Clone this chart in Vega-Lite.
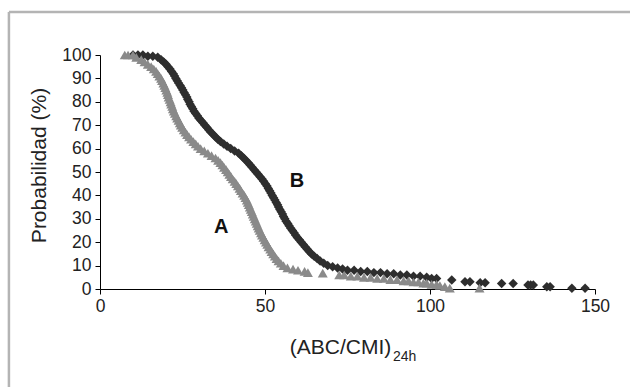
{
  "$schema": "https://vega.github.io/schema/vega-lite/v6.json",
  "width": 495,
  "height": 234,
  "autosize": "none",
  "padding": {"left": 100, "top": 55, "right": 35, "bottom": 98},
  "background": "white",
  "config": {
    "font": "Liberation Sans",
    "view": {"stroke": null},
    "axis": {"grid": false, "domainColor": "#000", "tickColor": "#000", "labelColor": "#222", "titleColor": "#222", "labelFontSize": 17.5, "titleFontSize": 21, "titleFontWeight": "normal", "tickSize": 5, "domainWidth": 1, "tickWidth": 1, "labelOverlap": false, "labelFlush": false}
  },
  "datasets": {
    "A": [
      {"x": 7.5, "p": 100}, {"x": 8.5, "p": 100}, {"x": 10, "p": 100}, {"x": 11, "p": 99}, {"x": 12.5, "p": 98}, {"x": 13.5, "p": 97}, {"x": 14.5, "p": 96}, {"x": 15.5, "p": 95}, {"x": 16.3, "p": 94}, {"x": 17, "p": 93}, {"x": 17.5, "p": 92}, {"x": 18, "p": 91}, {"x": 18.5, "p": 90}, {"x": 18.8, "p": 89}, {"x": 19.2, "p": 88}, {"x": 19.5, "p": 87}, {"x": 19.8, "p": 86}, {"x": 20.1, "p": 85}, {"x": 20.4, "p": 84}, {"x": 20.6, "p": 83}, {"x": 20.8, "p": 82}, {"x": 21.1, "p": 81}, {"x": 21.4, "p": 80}, {"x": 21.6, "p": 79}, {"x": 21.9, "p": 78}, {"x": 22.1, "p": 77}, {"x": 22.4, "p": 76}, {"x": 22.7, "p": 75}, {"x": 23.1, "p": 74}, {"x": 23.4, "p": 73}, {"x": 23.8, "p": 72}, {"x": 24.2, "p": 71}, {"x": 24.5, "p": 70}, {"x": 24.9, "p": 69}, {"x": 25.4, "p": 68}, {"x": 25.9, "p": 67}, {"x": 26.4, "p": 66}, {"x": 27, "p": 65}, {"x": 27.6, "p": 64}, {"x": 28.3, "p": 63}, {"x": 29, "p": 62}, {"x": 29.7, "p": 61}, {"x": 30.5, "p": 60}, {"x": 31.6, "p": 59}, {"x": 32.7, "p": 58}, {"x": 33.8, "p": 57}, {"x": 35, "p": 56}, {"x": 35.8, "p": 55}, {"x": 36.5, "p": 54}, {"x": 37.1, "p": 53}, {"x": 37.6, "p": 52}, {"x": 38.2, "p": 51}, {"x": 38.7, "p": 50}, {"x": 39.2, "p": 49}, {"x": 39.7, "p": 48}, {"x": 40.2, "p": 47}, {"x": 40.8, "p": 46}, {"x": 41.3, "p": 45}, {"x": 41.8, "p": 44}, {"x": 42.3, "p": 43}, {"x": 42.7, "p": 42}, {"x": 43.2, "p": 41}, {"x": 43.7, "p": 40}, {"x": 44.1, "p": 39}, {"x": 44.5, "p": 38}, {"x": 44.8, "p": 37}, {"x": 45.1, "p": 36}, {"x": 45.4, "p": 35}, {"x": 45.7, "p": 34}, {"x": 46, "p": 33}, {"x": 46.3, "p": 32}, {"x": 46.6, "p": 31}, {"x": 46.9, "p": 30}, {"x": 47.2, "p": 29}, {"x": 47.5, "p": 28}, {"x": 47.8, "p": 27}, {"x": 48.1, "p": 26}, {"x": 48.4, "p": 25}, {"x": 48.8, "p": 24}, {"x": 49.1, "p": 23}, {"x": 49.5, "p": 22}, {"x": 49.9, "p": 21}, {"x": 50.3, "p": 20}, {"x": 50.7, "p": 19}, {"x": 51.1, "p": 18}, {"x": 51.6, "p": 17}, {"x": 52, "p": 16}, {"x": 52.5, "p": 15}, {"x": 53, "p": 14}, {"x": 53.5, "p": 13}, {"x": 54.1, "p": 12}, {"x": 54.8, "p": 11}, {"x": 55.6, "p": 10}, {"x": 56.8, "p": 9}, {"x": 58.5, "p": 8.5}, {"x": 60, "p": 8}, {"x": 62, "p": 7.5}, {"x": 63, "p": 7}, {"x": 67.5, "p": 6.8}, {"x": 72.5, "p": 6}, {"x": 74, "p": 6}, {"x": 76, "p": 5.5}, {"x": 78, "p": 5.5}, {"x": 80, "p": 5}, {"x": 82, "p": 5}, {"x": 84, "p": 4.5}, {"x": 86, "p": 4.5}, {"x": 88, "p": 4}, {"x": 90, "p": 4}, {"x": 92, "p": 3.5}, {"x": 93.5, "p": 3.5}, {"x": 95, "p": 3}, {"x": 96.5, "p": 3}, {"x": 98, "p": 2.5}, {"x": 99, "p": 2.5}, {"x": 100.5, "p": 2}, {"x": 102, "p": 2}, {"x": 103, "p": 1.5}, {"x": 104.5, "p": 1}, {"x": 106, "p": 0.4}, {"x": 115, "p": 0.4}
    ],
    "B": [
      {"x": 10, "p": 100}, {"x": 11.5, "p": 100}, {"x": 13, "p": 100}, {"x": 14.5, "p": 99.5}, {"x": 16, "p": 99.5}, {"x": 17.5, "p": 99}, {"x": 18.5, "p": 98}, {"x": 19.3, "p": 97}, {"x": 20, "p": 96}, {"x": 20.6, "p": 95}, {"x": 21.2, "p": 94}, {"x": 21.7, "p": 93}, {"x": 22.2, "p": 92}, {"x": 22.6, "p": 91}, {"x": 23, "p": 90}, {"x": 23.4, "p": 89}, {"x": 23.8, "p": 88}, {"x": 24.3, "p": 87}, {"x": 24.7, "p": 86}, {"x": 25.1, "p": 85}, {"x": 25.5, "p": 84}, {"x": 25.9, "p": 83}, {"x": 26.3, "p": 82}, {"x": 26.6, "p": 81}, {"x": 27, "p": 80}, {"x": 27.3, "p": 79}, {"x": 27.7, "p": 78}, {"x": 28.1, "p": 77}, {"x": 28.5, "p": 76}, {"x": 29, "p": 75}, {"x": 29.5, "p": 74}, {"x": 30, "p": 73}, {"x": 30.6, "p": 72}, {"x": 31.2, "p": 71}, {"x": 31.8, "p": 70}, {"x": 32.4, "p": 69}, {"x": 33, "p": 68}, {"x": 33.6, "p": 67}, {"x": 34.3, "p": 66}, {"x": 35, "p": 65}, {"x": 35.7, "p": 64}, {"x": 36.5, "p": 63}, {"x": 37.5, "p": 62}, {"x": 38.5, "p": 61}, {"x": 39.6, "p": 60}, {"x": 40.8, "p": 59}, {"x": 42, "p": 58}, {"x": 42.8, "p": 57}, {"x": 43.5, "p": 56}, {"x": 44.2, "p": 55}, {"x": 44.9, "p": 54}, {"x": 45.5, "p": 53}, {"x": 46.1, "p": 52}, {"x": 46.7, "p": 51}, {"x": 47.3, "p": 50}, {"x": 47.9, "p": 49}, {"x": 48.5, "p": 48}, {"x": 49.1, "p": 47}, {"x": 49.6, "p": 46}, {"x": 50.1, "p": 45}, {"x": 50.6, "p": 44}, {"x": 51, "p": 43}, {"x": 51.4, "p": 42}, {"x": 51.8, "p": 41}, {"x": 52.2, "p": 40}, {"x": 52.6, "p": 39}, {"x": 53, "p": 38}, {"x": 53.4, "p": 37}, {"x": 53.8, "p": 36}, {"x": 54.1, "p": 35}, {"x": 54.5, "p": 34}, {"x": 54.9, "p": 33}, {"x": 55.3, "p": 32}, {"x": 55.6, "p": 31}, {"x": 56, "p": 30}, {"x": 56.4, "p": 29}, {"x": 56.9, "p": 28}, {"x": 57.3, "p": 27}, {"x": 57.8, "p": 26}, {"x": 58.3, "p": 25}, {"x": 58.8, "p": 24}, {"x": 59.3, "p": 23}, {"x": 59.8, "p": 22}, {"x": 60.4, "p": 21}, {"x": 61, "p": 20}, {"x": 61.6, "p": 19}, {"x": 62.2, "p": 18}, {"x": 62.8, "p": 17}, {"x": 63.4, "p": 16}, {"x": 64.1, "p": 15}, {"x": 64.9, "p": 14}, {"x": 65.8, "p": 13}, {"x": 66.7, "p": 12}, {"x": 67.8, "p": 11}, {"x": 69, "p": 10}, {"x": 70.5, "p": 9.5}, {"x": 72, "p": 9}, {"x": 73.5, "p": 8.5}, {"x": 75, "p": 8}, {"x": 77, "p": 8}, {"x": 79, "p": 7.5}, {"x": 81, "p": 7.5}, {"x": 83, "p": 7}, {"x": 85, "p": 7}, {"x": 87, "p": 6.5}, {"x": 89, "p": 6.5}, {"x": 91, "p": 6}, {"x": 93, "p": 6}, {"x": 95, "p": 5.5}, {"x": 97, "p": 5.5}, {"x": 99, "p": 5}, {"x": 100.5, "p": 4.5}, {"x": 102, "p": 4.5}, {"x": 106.6, "p": 3.8}, {"x": 110.6, "p": 3.1}, {"x": 112.1, "p": 3.1}, {"x": 115.2, "p": 2.7}, {"x": 116.7, "p": 2.7}, {"x": 121.7, "p": 2.4}, {"x": 125.2, "p": 2.4}, {"x": 129.7, "p": 1.7}, {"x": 130.5, "p": 1.7}, {"x": 131.3, "p": 1.7}, {"x": 135.4, "p": 1.0}, {"x": 136.4, "p": 1.0}, {"x": 143, "p": 0.3}, {"x": 147, "p": 0.3}
    ],
    "labels": [
      {"x": 36.7, "p": 26.5, "t": "A"},
      {"x": 59.7, "p": 46.2, "t": "B"}
    ],
    "one": [{}]
  },
  "layer": [
    {
      "data": {"name": "one"},
      "mark": {"type": "rule", "color": "#b4b4b4", "strokeWidth": 2.5, "x2Offset": 40},
      "encoding": {
        "x": {"datum": -27.6, "type": "quantitative", "scale": {"domain": [0, 150], "nice": false},
          "axis": {"values": [0, 50, 100, 150], "title": "(ABC/CMI)", "titleX": 240, "titleY": 64, "titleBaseline": "alphabetic", "titleAlign": "center", "labelPadding": 3}},
        "x2": {"datum": 150},
        "y": {"datum": 118.4, "type": "quantitative", "scale": {"domain": [0, 100], "nice": false},
          "axis": {"values": [0, 10, 20, 30, 40, 50, 60, 70, 80, 90, 100], "title": "Probabilidad (%)", "titlePadding": 12, "titleY": 110, "labelPadding": 4}}
      }
    },
    {
      "data": {"name": "one"},
      "mark": {"type": "rule", "color": "#b4b4b4", "strokeWidth": 2.5, "y2Offset": 10},
      "encoding": {
        "x": {"datum": -27.6, "type": "quantitative", "scale": {"domain": [0, 150], "nice": false},
          "axis": {"values": [0, 50, 100, 150], "title": "(ABC/CMI)", "titleX": 240, "titleY": 64, "titleBaseline": "alphabetic", "titleAlign": "center", "labelPadding": 3}},
        "y": {"datum": 118.4, "type": "quantitative", "scale": {"domain": [0, 100], "nice": false},
          "axis": {"values": [0, 10, 20, 30, 40, 50, 60, 70, 80, 90, 100], "title": "Probabilidad (%)", "titlePadding": 12, "titleY": 110, "labelPadding": 4}},
        "y2": {"datum": -40}
      }
    },
    {
      "data": {"name": "B"},
      "mark": {"type": "point", "shape": "diamond", "filled": true, "color": "#2e2e2e", "size": 90, "opacity": 1},
      "encoding": {
        "x": {"field": "x", "type": "quantitative", "scale": {"domain": [0, 150], "nice": false},
          "axis": {"values": [0, 50, 100, 150], "title": "(ABC/CMI)", "titleX": 240, "titleY": 64, "titleBaseline": "alphabetic", "titleAlign": "center", "labelPadding": 3}},
        "y": {"field": "p", "type": "quantitative", "scale": {"domain": [0, 100], "nice": false},
          "axis": {"values": [0, 10, 20, 30, 40, 50, 60, 70, 80, 90, 100], "title": "Probabilidad (%)", "titlePadding": 12, "titleY": 110, "labelPadding": 4}}
      }
    },
    {
      "data": {"name": "A"},
      "mark": {"type": "point", "shape": "triangle-up", "filled": true, "color": "#8a8a8a", "size": 100, "opacity": 1},
      "encoding": {
        "x": {"field": "x", "type": "quantitative", "scale": {"domain": [0, 150], "nice": false},
          "axis": {"values": [0, 50, 100, 150], "title": "(ABC/CMI)", "titleX": 240, "titleY": 64, "titleBaseline": "alphabetic", "titleAlign": "center", "labelPadding": 3}},
        "y": {"field": "p", "type": "quantitative", "scale": {"domain": [0, 100], "nice": false},
          "axis": {"values": [0, 10, 20, 30, 40, 50, 60, 70, 80, 90, 100], "title": "Probabilidad (%)", "titlePadding": 12, "titleY": 110, "labelPadding": 4}}
      }
    },
    {
      "data": {"name": "labels"},
      "mark": {"type": "text", "fontSize": 20, "fontWeight": "bold", "color": "#111", "align": "center", "baseline": "middle"},
      "encoding": {
        "x": {"field": "x", "type": "quantitative", "scale": {"domain": [0, 150], "nice": false},
          "axis": {"values": [0, 50, 100, 150], "title": "(ABC/CMI)", "titleX": 240, "titleY": 64, "titleBaseline": "alphabetic", "titleAlign": "center", "labelPadding": 3}},
        "y": {"field": "p", "type": "quantitative", "scale": {"domain": [0, 100], "nice": false},
          "axis": {"values": [0, 10, 20, 30, 40, 50, 60, 70, 80, 90, 100], "title": "Probabilidad (%)", "titlePadding": 12, "titleY": 110, "labelPadding": 4}},
        "text": {"field": "t"}
      }
    },
    {
      "data": {"name": "one"},
      "mark": {"type": "text", "fontSize": 14, "color": "#222", "align": "left", "baseline": "alphabetic"},
      "encoding": {
        "x": {"datum": 88.8, "type": "quantitative", "scale": {"domain": [0, 150], "nice": false},
          "axis": {"values": [0, 50, 100, 150], "title": "(ABC/CMI)", "titleX": 240, "titleY": 64, "titleBaseline": "alphabetic", "titleAlign": "center", "labelPadding": 3}},
        "y": {"datum": -30.8, "type": "quantitative", "scale": {"domain": [0, 100], "nice": false},
          "axis": {"values": [0, 10, 20, 30, 40, 50, 60, 70, 80, 90, 100], "title": "Probabilidad (%)", "titlePadding": 12, "titleY": 110, "labelPadding": 4}},
        "text": {"value": "24h"}
      }
    }
  ]
}
